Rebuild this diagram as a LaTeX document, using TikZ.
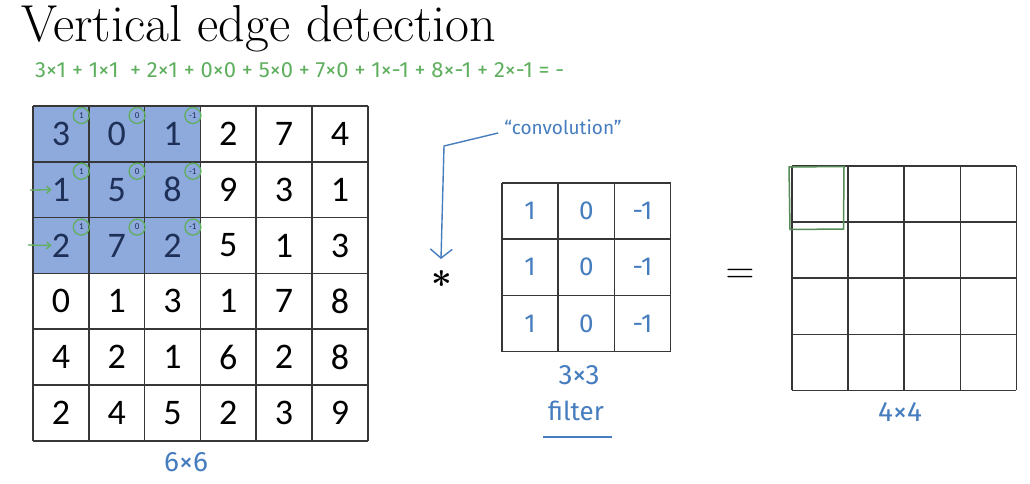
\documentclass[tikz,border=0pt]{standalone}
\usepackage{fix-cm}
\usepackage{fontspec}
\newfontfamily\dig{Carlito}
\newfontfamily\hand{Fira Sans}
\usetikzlibrary{arrows.meta}
\definecolor{cellblue}{RGB}{142,169,219}
\definecolor{navy}{RGB}{30,48,88}
\definecolor{gridc}{RGB}{55,55,55}
\definecolor{hblue}{RGB}{70,125,190}
\definecolor{hgreen}{RGB}{95,175,95}
\definecolor{dgreen}{RGB}{85,140,85}
\begin{document}
\begin{tikzpicture}[x=1pt,y=-1pt,
  gridline/.style={draw=gridc,line width=1.6pt},
  digit/.style={font=\dig\fontsize{36}{36}\selectfont,inner sep=0pt},
  small/.style={font=\dig\fontsize{9}{9}\selectfont,inner sep=0pt,text=navy},
  ring/.style={circle,draw=hgreen,line width=1.3pt,minimum size=16pt,inner sep=0pt},
  handb/.style={font=\hand\fontsize{28}{28}\selectfont,text=hblue,inner sep=0pt},
  handf/.style={font=\hand\fontsize{26}{26}\selectfont,text=hblue,inner sep=0pt},
  handg/.style={font=\hand\fontsize{22}{22}\selectfont,text=hgreen,inner sep=0pt},
  harrow/.style={draw=hblue,line width=1.4pt,-{Straight Barb[length=9pt,width=22pt]}},
  garrow/.style={draw=hgreen,line width=1.3pt,-{Straight Barb[length=4pt,width=7pt]}}]
\useasboundingbox[fill=white] (0,0) rectangle (1030,484);

% title
\node[anchor=base west,inner sep=0pt,font=\fontsize{52}{52}\selectfont] (title) at (21,42) {Vertical edge detection};

% formula
\node[handg,anchor=west] (formula) at (35,70) {3×1 + 1×1 \ + 2×1 + 0×0 + 5×0 + 7×0 + 1×-1 + 8×-1 + 2×-1 = -};

% 6x6 input
\def\cx{55.8}
\fill[cellblue] (33,106) rectangle (200.4,273.4);
\foreach \i in {0,...,6}{
  \draw[gridline] (33+\i*\cx,106) -- (33+\i*\cx,440.8);
  \draw[gridline] (33,106+\i*\cx) -- (367.8,106+\i*\cx);
}
\foreach \row [count=\r from 0] in {{3,0,1,2,7,4},{1,5,8,9,3,1},{2,7,2,5,1,3},{0,1,3,1,7,8},{4,2,1,6,2,8},{2,4,5,2,3,9}}{
  \foreach \v [count=\c from 0] in \row{
    \pgfmathsetmacro{\isin}{(\r<3 && \c<3) ? 1 : 0}
    \ifnum\isin=1
      \node[digit,text=navy] (d-\r-\c) at (33+\c*\cx+0.5*\cx,106+\r*\cx+0.5*\cx) {\v};
    \else
      \node[digit] (d-\r-\c) at (33+\c*\cx+0.5*\cx,106+\r*\cx+0.5*\cx) {\v};
    \fi
  }
}
% filter weights circles
\foreach \r in {0,1,2}{
  \foreach \w [count=\c from 0] in {1,0,-1}{
    \node[ring] (w-\r-\c) at (33+\c*\cx+\cx-7.5,106+\r*\cx+9.5) {};
    \node[small] (wt-\r-\c) at (w-\r-\c.center) {\w};
  }
}
\coordinate (a1) at (30,190);
\coordinate (a2) at (28,245);
\draw[garrow] (a1) -- (d-1-0.west);
\draw[garrow] (a2) -- (d-2-0.west);

\node[handb] (d6) at (186,462) {6×6};

% convolution label and arrow
\node[handb,font=\hand\fontsize{19}{19}\selectfont] (conv) at (563,127) {“convolution”};
\node[inner sep=0pt,font=\fontsize{36}{36}\selectfont\boldmath] (star) at (442,279) {$\ast$};
\coordinate (bend) at (444,146);
\draw[harrow,line join=round] (conv.west) ++(-6,6) -- (bend) -- (441,259);

% filter
\def\fx{56.2}
\foreach \i in {0,...,3}{
  \draw[gridline] (502+\i*\fx,183) -- (502+\i*\fx,351.6);
  \draw[gridline] (502,183+\i*\fx) -- (670.6,183+\i*\fx);
}
\foreach \r in {0,1,2}{
  \foreach \w [count=\c from 0] in {1,0,-1}{
    \node[handf] (f-\r-\c) at (502+\c*\fx+0.5*\fx,183+\r*\fx+0.5*\fx) {\w};
  }
}
\node[handb] (f33) at (579,375) {3×3};
\node[handf] (filt) at (576,411) {filter};
\draw[draw=hblue,line width=1.4pt] (543,437) -- (612,437);

% equals
\node[inner sep=0pt,font=\fontsize{40}{40}\selectfont] (eq) at (740,276) {$=$};

% 4x4 output
\def\ox{56.1}
\foreach \i in {0,...,4}{
  \draw[gridline] (792+\i*\ox,166) -- (792+\i*\ox,390.4);
  \draw[gridline] (792,166+\i*\ox) -- (1016.4,166+\i*\ox);
}
\draw[dgreen,line width=1.5pt] (789,167) -- (844,166.5) -- (843.5,229) -- (790,229.5) -- cycle;
\node[handb] (o44) at (900,412) {4×4};
\end{tikzpicture}
\end{document}
